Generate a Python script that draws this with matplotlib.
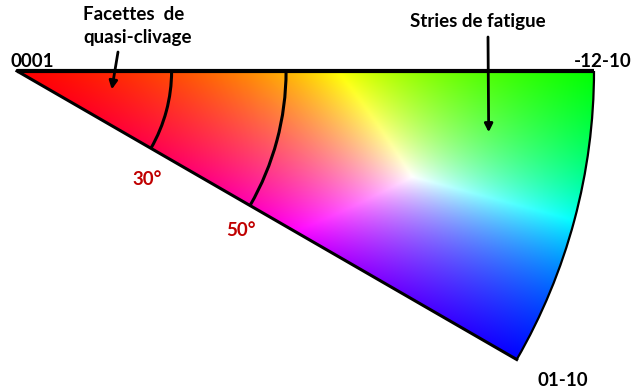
import numpy as np
import matplotlib.pyplot as plt
from matplotlib.patches import Wedge, Arc

# triangle standard hexagonal (projection stéréographique, rayon 1)
poles = ['0001', '-12-10', '01-10']
sector_deg = 30                      # angle du triangle
tilt_angles = [30, 50]               # cercles de désorientation depuis 0001
tilt_labels = ['30°', '50°']
notes = ['Facettes  de', 'quasi-clivage', 'Stries de fatigue']
note_tips = [(19, -11), (79, -7.4)]  # (theta, phi) en degrés : pointe des flèches

# mise en page : pixels -> coordonnées de projection
R_PX = 577.0
APEX = (17.0, 71.0)


def px(x, y):
    return (x - APEX[0]) / R_PX, -(y - APEX[1]) / R_PX


def stereo(theta, phi):
    r = np.tan(np.radians(theta) / 2)
    return r * np.cos(np.radians(phi)), r * np.sin(np.radians(phi))


fig = plt.figure(figsize=(6.33, 3.89), dpi=100)
ax = fig.add_axes([0, 0, 1, 1])
x0, y1 = px(0, 0)
x1, y0 = px(633, 389)
ax.set_xlim(x0, x1)
ax.set_ylim(y0, y1)
ax.axis('off')

# carte de couleurs IPF
xs = np.linspace(0, 1.01, 800)
ys = np.linspace(-0.52, 0.01, 420)
X, Y = np.meshgrid(xs, ys)
rho = np.clip(np.hypot(X, Y), 0, 1)
phi = np.degrees(np.arctan2(-Y, X))
t = rho ** 1.18
s = np.clip(phi / sector_deg, 0, 1)
rgb = np.stack([1 - t, t * (1 - s), t * s], axis=-1)
rgb = rgb / rgb.max(axis=-1, keepdims=True)
rgb = rgb ** 0.9
im = ax.imshow(rgb, origin='lower', extent=(xs[0], xs[-1], ys[0], ys[-1]),
               interpolation='bilinear', zorder=1)
wedge = Wedge((0, 0), 1, -sector_deg, 0, transform=ax.transData)
im.set_clip_path(wedge)

# contour du triangle
cx, cy = stereo(90, -sector_deg)
ax.plot([0, 1], [0, 0], color='black', lw=3, solid_capstyle='butt', zorder=3)
ax.plot([0, cx], [0, cy], color='black', lw=2.2, zorder=3)
ax.add_patch(Arc((0, 0), 2, 2, theta1=-sector_deg, theta2=0, color='black', lw=1.6, zorder=3))

# cercles 30° et 50°
for a in tilt_angles:
    r = np.tan(np.radians(a) / 2)
    ax.add_patch(Arc((0, 0), 2 * r, 2 * r, theta1=-sector_deg, theta2=0,
                     color='black', lw=2.2, zorder=3))

font = dict(family=['Lato', 'DejaVu Sans'], fontweight='bold', fontsize=13.5)
red = '#C00000'

ax.text(*px(147, 185), tilt_labels[0], color=red, ha='center', va='baseline', **font)
ax.text(*px(241, 236), tilt_labels[1], color=red, ha='center', va='baseline', **font)

ax.text(*px(10, 67), poles[0], color='black', ha='left', va='baseline', **font)
ax.text(*px(632, 67), poles[1], color='black', ha='right', va='baseline', **font)
ax.text(*px(563, 386), poles[2], color='black', ha='center', va='baseline', **font)

ax.text(*px(83, 20), notes[0], color='black', ha='left', va='baseline', **font)
ax.text(*px(83, 43), notes[1], color='black', ha='left', va='baseline', **font)
ax.text(*px(478, 27), notes[2], color='black', ha='center', va='baseline', **font)

arrow = dict(arrowstyle='-|>', color='black', lw=2, mutation_scale=12, shrinkA=0, shrinkB=0)
ax.annotate('', xy=stereo(*note_tips[0]), xytext=px(118, 52), arrowprops=arrow, zorder=4)
ax.annotate('', xy=stereo(*note_tips[1]), xytext=px(488, 37), arrowprops=arrow, zorder=4)

fig.savefig('out.png', dpi=100)
